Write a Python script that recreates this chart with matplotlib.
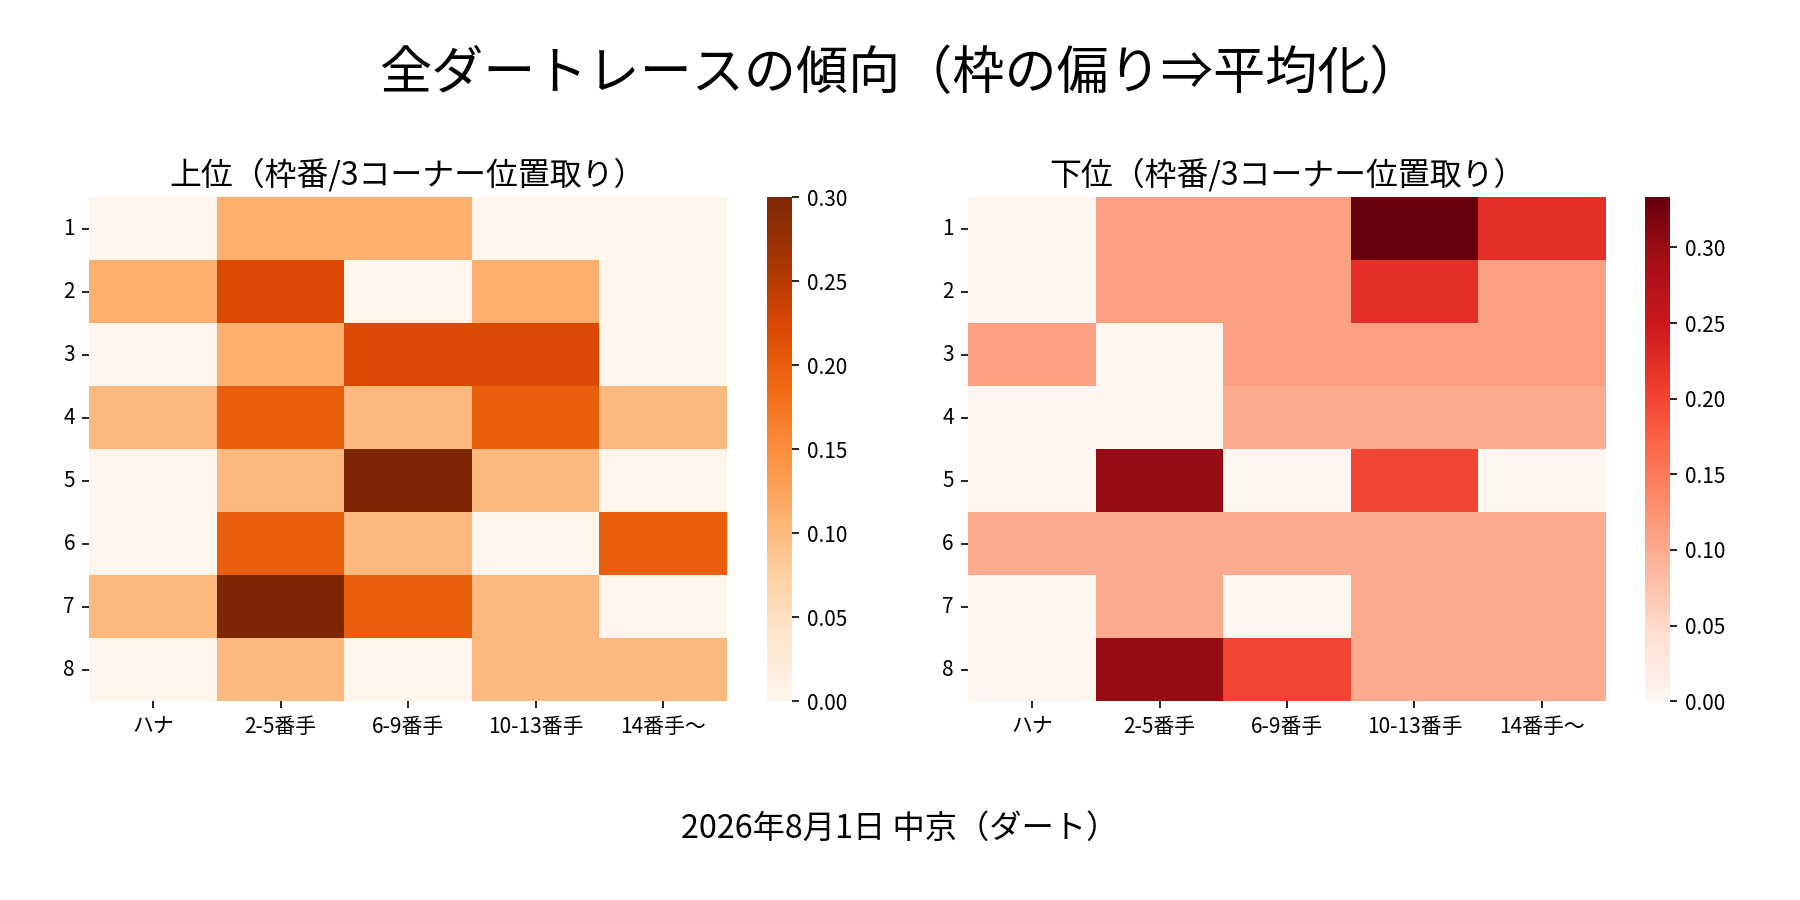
import matplotlib
matplotlib.use("Agg")
import matplotlib.pyplot as plt
import seaborn as sns
import numpy as np

plt.rcParams['font.family'] = ['Noto Sans CJK JP', 'DejaVu Sans']

gates = ['1', '2', '3', '4', '5', '6', '7', '8']
positions = ['ハナ', '2-5番手', '6-9番手', '10-13番手', '14番手〜']

# 上位 (top finishers) share by gate / 3rd-corner position
upper = [
    [0, 1/9, 1/9, 0, 0],
    [1/9, 2/9, 0, 1/9, 0],
    [0, 1/9, 2/9, 2/9, 0],
    [0.1, 0.2, 0.1, 0.2, 0.1],
    [0, 0.1, 0.3, 0.1, 0],
    [0, 0.2, 0.1, 0, 0.2],
    [0.1, 0.3, 0.2, 0.1, 0],
    [0, 0.1, 0, 0.1, 0.1],
]

# 下位 (bottom finishers)
lower = [
    [0, 1/9, 1/9, 3/9, 2/9],
    [0, 1/9, 1/9, 2/9, 1/9],
    [1/9, 0, 1/9, 1/9, 1/9],
    [0, 0, 0.1, 0.1, 0.1],
    [0, 0.3, 0, 0.2, 0],
    [0.1, 0.1, 0.1, 0.1, 0.1],
    [0, 0.1, 0, 0.1, 0.1],
    [0, 0.3, 0.2, 0.1, 0.1],
]

fig = plt.figure(figsize=(12, 6), dpi=150)

ax1 = fig.add_axes([0.0497, 0.221, 0.354, 0.560])
cax1 = fig.add_axes([0.426, 0.221, 0.014, 0.560])
ax2 = fig.add_axes([0.538, 0.221, 0.354, 0.560])
cax2 = fig.add_axes([0.914, 0.221, 0.014, 0.560])

sns.heatmap(np.array(upper), ax=ax1, cbar_ax=cax1, cmap='Oranges', vmin=0,
            xticklabels=positions, yticklabels=gates)
sns.heatmap(np.array(lower), ax=ax2, cbar_ax=cax2, cmap='Reds', vmin=0,
            xticklabels=positions, yticklabels=gates)

for ax, title in [(ax1, '上位（枠番/3コーナー位置取り）'), (ax2, '下位（枠番/3コーナー位置取り）')]:
    ax.set_title(title, fontsize=15.3)
    ax.tick_params(axis='y', rotation=0)
    ax.tick_params(axis='x', rotation=0)

fig.suptitle('全ダートレースの傾向（枠の偏り⇒平均化）', fontsize=25, y=0.917, va='center')
fig.text(0.5, 0.079, '2026年8月1日 中京（ダート）', ha='center', va='center', fontsize=15.5)

fig.savefig('out.png', dpi=150)
